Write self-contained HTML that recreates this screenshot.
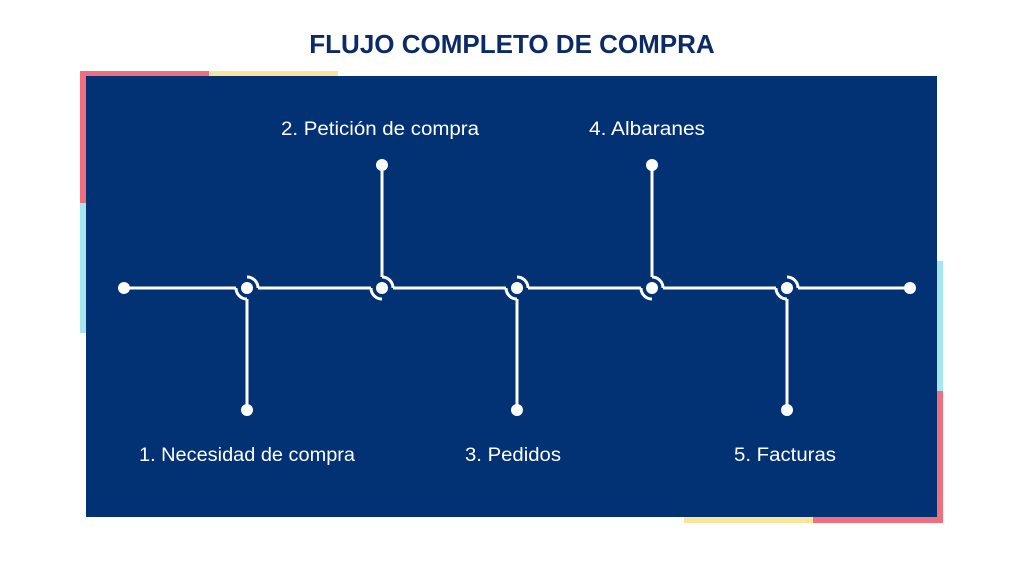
<!DOCTYPE html>
<html><head><meta charset="utf-8"><style>
body{margin:0;width:1024px;height:576px;background:#fff;overflow:hidden;font-family:"Liberation Sans",sans-serif}
</style></head><body>
<svg width="1024" height="576" xmlns="http://www.w3.org/2000/svg">
<rect x="80" y="71" width="129" height="6" fill="#ef6f7e"/>
<rect x="209" y="71" width="129" height="6" fill="#fbe49a"/>
<rect x="80" y="71" width="6" height="132" fill="#ef6f7e"/>
<rect x="80" y="203" width="6" height="130" fill="#a6e6ee"/>
<rect x="937" y="261" width="6" height="130" fill="#a6e6ee"/>
<rect x="937" y="391" width="6" height="132" fill="#ef6f7e"/>
<rect x="684" y="517" width="129" height="6" fill="#fbe49a"/>
<rect x="813" y="517" width="130" height="6" fill="#ef6f7e"/>
<rect x="86" y="76" width="851" height="441" fill="#023174"/>
<text x="512" y="53" text-anchor="middle" font-size="26" font-weight="bold" fill="#0b2a66">FLUJO COMPLETO DE COMPRA</text>
<g stroke="#fff" stroke-width="3" fill="none">
<line x1="124" y1="288" x2="236" y2="288"/>
<line x1="258" y1="288" x2="371" y2="288"/>
<line x1="393" y1="288" x2="506" y2="288"/>
<line x1="528" y1="288" x2="641" y2="288"/>
<line x1="663" y1="288" x2="776" y2="288"/>
<line x1="798" y1="288" x2="910" y2="288"/>
<line x1="247" y1="299" x2="247" y2="410"/>
<line x1="517" y1="299" x2="517" y2="410"/>
<line x1="787" y1="299" x2="787" y2="410"/>
<line x1="382" y1="277" x2="382" y2="165"/>
<line x1="652" y1="277" x2="652" y2="165"/>
<path d="M247 277 A11 11 0 0 1 258 288 M236 288 A11 11 0 0 0 247 299"/>
<path d="M382 277 A11 11 0 0 1 393 288 M371 288 A11 11 0 0 0 382 299"/>
<path d="M517 277 A11 11 0 0 1 528 288 M506 288 A11 11 0 0 0 517 299"/>
<path d="M652 277 A11 11 0 0 1 663 288 M641 288 A11 11 0 0 0 652 299"/>
<path d="M787 277 A11 11 0 0 1 798 288 M776 288 A11 11 0 0 0 787 299"/>
</g>
<g fill="#fff">
<circle cx="124" cy="288" r="6"/><circle cx="910" cy="288" r="6"/>
<circle cx="247" cy="288" r="6"/><circle cx="382" cy="288" r="6"/><circle cx="517" cy="288" r="6"/><circle cx="652" cy="288" r="6"/><circle cx="787" cy="288" r="6"/>
<circle cx="247" cy="410" r="6"/><circle cx="517" cy="410" r="6"/><circle cx="787" cy="410" r="6"/>
<circle cx="382" cy="165" r="6"/><circle cx="652" cy="165" r="6"/>
</g>
<g fill="#fff" font-size="19" text-anchor="middle">
<text x="380" y="135" textLength="198" lengthAdjust="spacingAndGlyphs">2. Petición de compra</text>
<text x="647" y="135" textLength="116" lengthAdjust="spacingAndGlyphs">4. Albaranes</text>
<text x="247" y="461" textLength="216" lengthAdjust="spacingAndGlyphs">1. Necesidad de compra</text>
<text x="513" y="461" textLength="96" lengthAdjust="spacingAndGlyphs">3. Pedidos</text>
<text x="785" y="461" textLength="102" lengthAdjust="spacingAndGlyphs">5. Facturas</text>
</g>
</svg>
</body></html>
